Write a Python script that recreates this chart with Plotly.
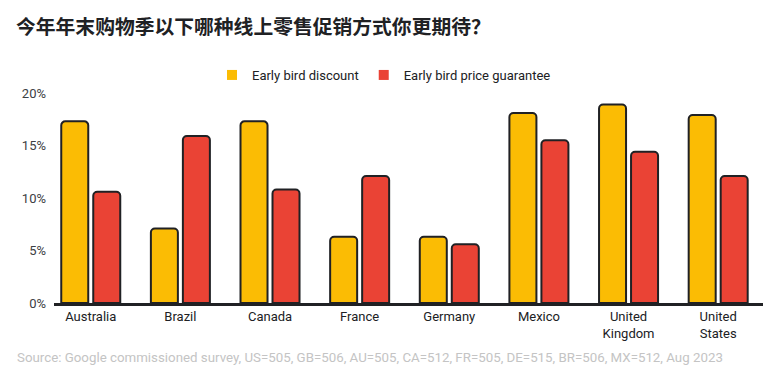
import plotly.graph_objects as go

categories = ["Australia", "Brazil", "Canada", "France", "Germany", "Mexico",
              "United<br>Kingdom", "United<br>States"]
early_bird_discount = [17.3, 7.1, 17.3, 6.3, 6.3, 18.1, 18.9, 17.9]
early_bird_price_guarantee = [10.6, 15.9, 10.8, 12.1, 5.6, 15.5, 14.4, 12.1]
series_names = ["Early bird discount", "Early bird price guarantee"]
colors = ["#FBBC04", "#EA4335"]
y_ticks = [0, 5, 10, 15, 20]
y_tick_labels = ["0%", "5%", "10%", "15%", "20%"]

title_text = "今年年末购物季以下哪种线上零售促销方式你更期待？"
source_text = ("Source: Google commissioned survey, US=505, GB=506, AU=505, CA=512, "
               "FR=505, DE=515, BR=506, MX=512, Aug 2023")

fig = go.Figure()
for name, vals, col in zip(series_names, [early_bird_discount, early_bird_price_guarantee], colors):
    fig.add_trace(go.Bar(
        x=categories, y=vals, name=name, showlegend=False,
        marker=dict(color=col, line=dict(color="#202124", width=2), cornerradius=4),
        hoverinfo="skip",
    ))
# legend-only entries (plain squares, no outline)
for name, col in zip(series_names, colors):
    fig.add_trace(go.Scatter(
        x=[None], y=[None], mode="markers", name=name,
        marker=dict(symbol="square", color=col, size=10),
    ))

fig.update_layout(
    width=780, height=376,
    margin=dict(l=54, r=17, t=93, b=73, autoexpand=False),
    paper_bgcolor="white", plot_bgcolor="white",
    barmode="group", bargap=0.286, bargroupgap=0.156,
    font=dict(family="Roboto, 'Noto Sans', sans-serif", size=13, color="#202124"),
    title=dict(
        text="<b>" + title_text + "</b>",
        xref="container", yref="container",
        x=16 / 780, xanchor="left", y=1 - 27 / 376, yanchor="middle",
        font=dict(family="'Noto Sans CJK SC', sans-serif", size=19.8, color="#202124"),
    ),
    legend=dict(
        orientation="h", xref="container", yref="container",
        x=212 / 780, xanchor="left", y=1 - 75 / 376, yanchor="middle",
        font=dict(size=13, color="#202124"), bgcolor="rgba(0,0,0,0)",
        itemclick=False,
    ),
    xaxis=dict(
        range=[-0.41, 7.5], showline=True, linecolor="#202124", linewidth=2.5,
        ticks="", showgrid=False, zeroline=False, fixedrange=True,
        tickfont=dict(size=13, color="#202124"),
    ),
    yaxis=dict(
        range=[0, 20], tickvals=y_ticks, ticktext=y_tick_labels,
        showgrid=False, zeroline=False, showline=False, ticks="",
        ticklabelstandoff=7, tickfont=dict(size=13, color="#3c4043"),
        fixedrange=True,
    ),
    showlegend=True,
)

fig.add_annotation(
    text=source_text, xref="paper", yref="paper",
    x=(15 - 54) / 709, xanchor="left", y=-(357 - 303) / 210, yanchor="middle",
    showarrow=False, font=dict(size=13.3, color="#c4c4c4"),
)

fig.write_html("out.html", config=dict(displayModeBar=False))
